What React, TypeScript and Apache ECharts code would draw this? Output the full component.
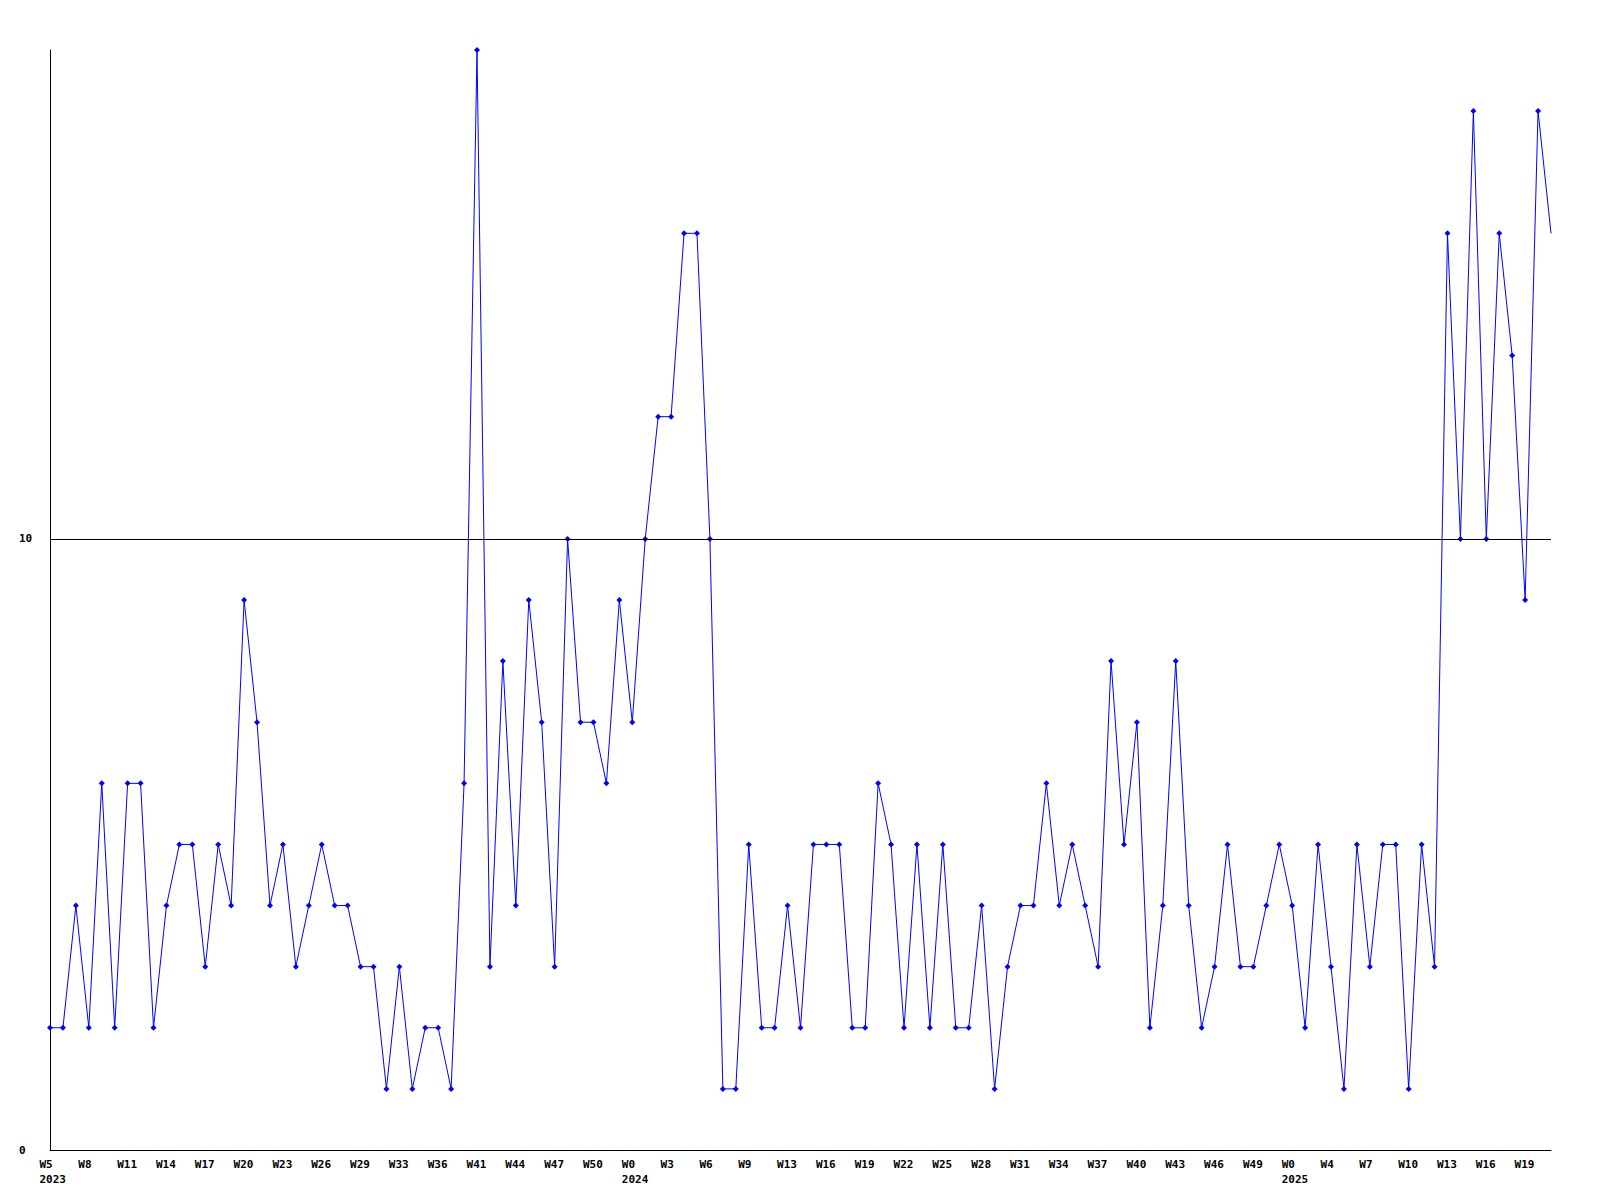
import React, { useEffect, useRef } from "react";
import * as echarts from "echarts";

const weeks = [
  "W5\n2023", "W6", "W7", "W8", "W9", "W10", "W11", "W12", "W13", "W14",
  "W15", "W16", "W17", "W18", "W19", "W20", "W21", "W22", "W23", "W24",
  "W25", "W26", "W27", "W28", "W29", "W30", "W31", "W33", "W34", "W35",
  "W36", "W38", "W40", "W41", "W42", "W43", "W44", "W45", "W46", "W47",
  "W48", "W49", "W50", "W51", "W52",
  "W0\n2024", "W1", "W2", "W3", "W4", "W5", "W6", "W7", "W8", "W9",
  "W10", "W11", "W13", "W14", "W15", "W16", "W17", "W18", "W19", "W20",
  "W21", "W22", "W23", "W24", "W25", "W26", "W27", "W28", "W29", "W30",
  "W31", "W32", "W33", "W34", "W35", "W36", "W37", "W38", "W39", "W40",
  "W41", "W42", "W43", "W44", "W45", "W46", "W47", "W48", "W49", "W50",
  "W51",
  "W0\n2025", "W1", "W2", "W4", "W5", "W6", "W7", "W8", "W9", "W10",
  "W11", "W12", "W13", "W14", "W15", "W16", "W17", "W18", "W19", "W20",
  "W21",
];

const values = [
  2, 2, 4, 2, 6, 2, 6, 6, 2, 4,
  5, 5, 3, 5, 4, 9, 7, 4, 5, 3,
  4, 5, 4, 4, 3, 3, 1, 3, 1, 2,
  2, 1, 6, 18, 3, 8, 4, 9, 7, 3,
  10, 7, 7, 6, 9, 7, 10, 12, 12, 15,
  15, 10, 1, 1, 5, 2, 2, 4, 2, 5,
  5, 5, 2, 2, 6, 5, 2, 5, 2, 5,
  2, 2, 4, 1, 3, 4, 4, 6, 4, 5,
  4, 3, 8, 5, 7, 2, 4, 8, 4, 2,
  3, 5, 3, 3, 4, 5, 4, 2, 5, 3,
  1, 5, 3, 5, 5, 1, 5, 3, 15, 10,
  17, 10, 15, 13, 9, 17, 15,
];

const yTickLabels = [0, 10];
const referenceLine = 10;
const yMax = 18;

const FONT = "'DejaVu Sans Mono', monospace";

export default function App() {
  const ref = useRef<HTMLDivElement>(null);

  useEffect(() => {
    if (!ref.current) return;
    const chart = echarts.init(ref.current, undefined, { renderer: "svg" });
    const data = values.map((v, i) =>
      i === values.length - 1 ? { value: v, symbol: "none" } : v
    );
    chart.setOption({
      animation: false,
      backgroundColor: "#ffffff",
      grid: { left: 50, right: 49, top: 50, bottom: 50, containLabel: false },
      xAxis: {
        type: "category",
        data: weeks,
        boundaryGap: false,
        axisLine: { show: true, lineStyle: { color: "#000", width: 1 } },
        axisTick: { show: false },
        splitLine: { show: false },
        axisLabel: {
          interval: 2,
          align: "left",
          padding: [0, 0, 0, -10.5],
          margin: 7,
          color: "#000",
          fontFamily: FONT,
          fontWeight: "bold",
          fontSize: 11,
          lineHeight: 15,
          hideOverlap: false,
        },
      },
      yAxis: {
        type: "value",
        min: 0,
        max: yMax,
        interval: 10,
        axisLine: { show: true, lineStyle: { color: "#000", width: 1 } },
        axisTick: { show: false },
        splitLine: { show: false },
        axisLabel: {
          showMaxLabel: true,
          showMinLabel: true,
          formatter: (v: number) => (yTickLabels.includes(v) ? String(v) : ""),
          align: "left",
          margin: 31,
          color: "#000",
          fontFamily: FONT,
          fontWeight: "bold",
          fontSize: 11,
        },
      },
      series: [
        {
          type: "line",
          data,
          symbol: "diamond",
          symbolSize: 6,
          showAllSymbol: true,
          itemStyle: { color: "#0000ff" },
          lineStyle: { color: "#0000ff", width: 1 },
          markLine: {
            silent: true,
            symbol: "none",
            label: { show: false },
            lineStyle: { color: "#000", type: "solid", width: 1 },
            data: [{ yAxis: referenceLine }],
          },
          z: 3,
        },
      ],
    });
    return () => chart.dispose();
  }, []);

  return (
    <div
      ref={ref}
      style={{ position: "fixed", left: 0, top: 0, width: 1600, height: 1200 }}
    />
  );
}
